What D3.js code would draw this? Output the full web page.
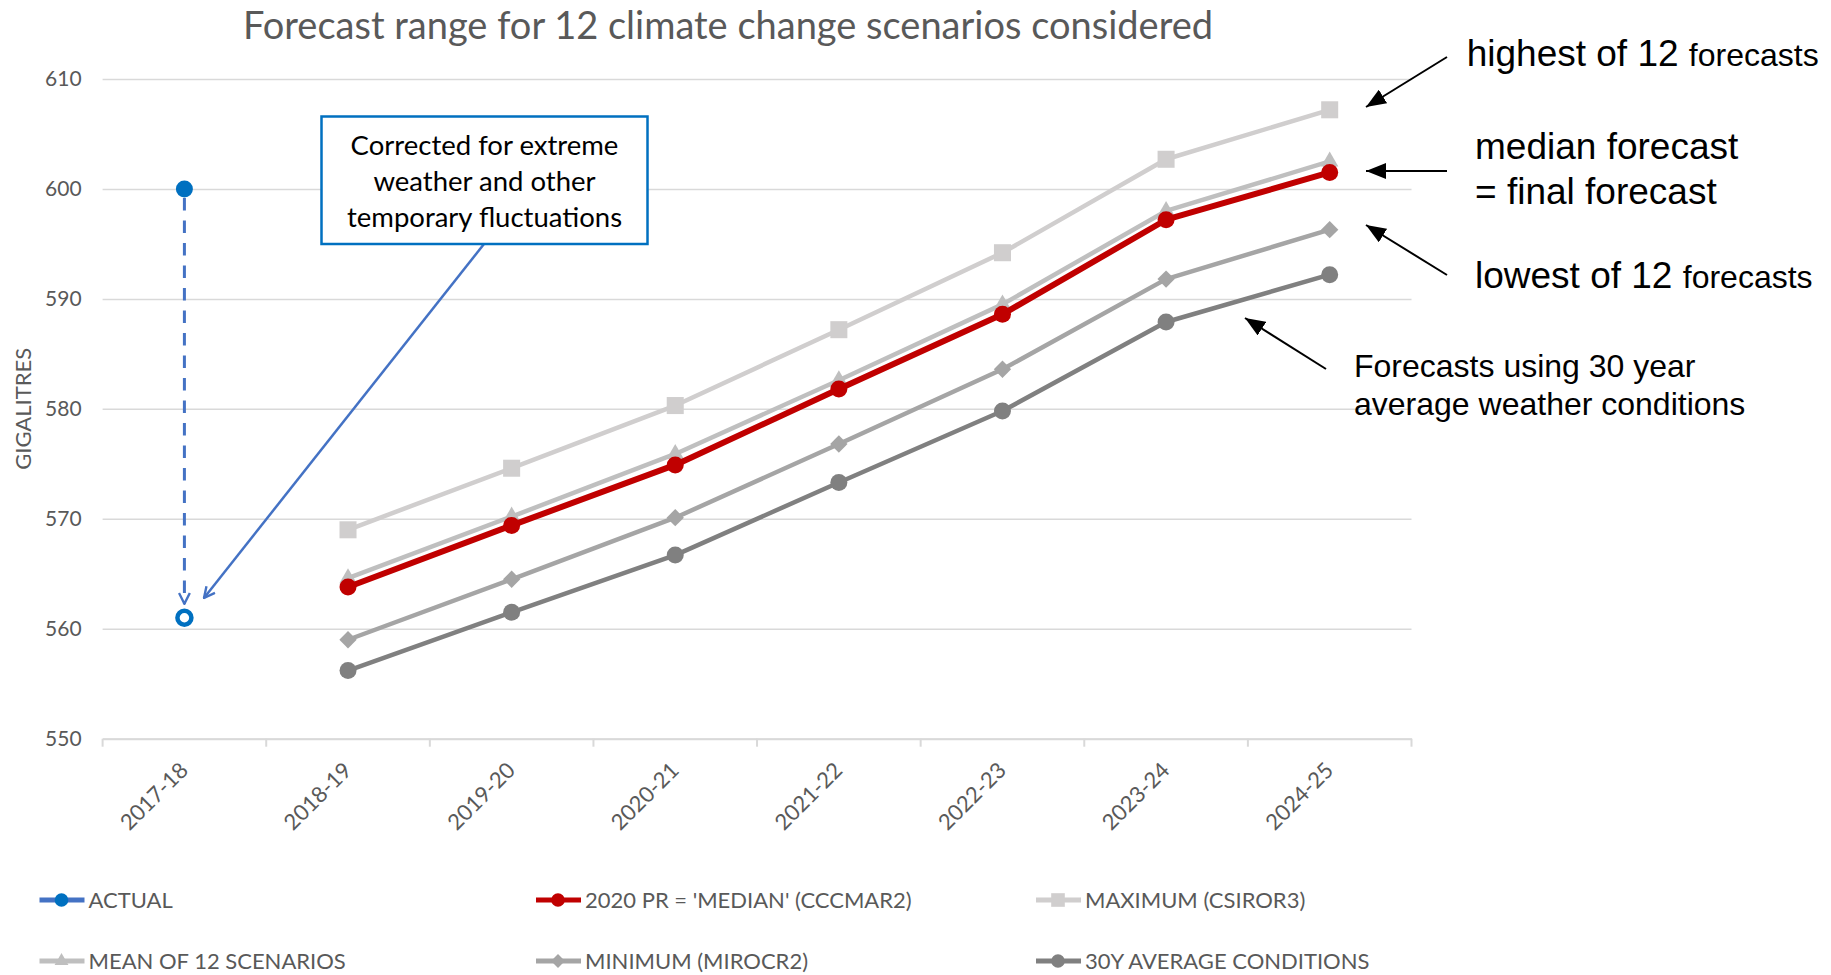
<!DOCTYPE html>
<html>
<head>
<meta charset="utf-8">
<script src="https://cdn.jsdelivr.net/npm/d3@7"></script>
<style>
  html, body { margin: 0; padding: 0; background: #ffffff; }
  svg { display: block; }
</style>
</head>
<body>
<svg id="chart" width="1831" height="975"></svg>
<script>
// ---- data ----
const categories = ['2017-18', '2018-19', '2019-20', '2020-21', '2021-22', '2022-23', '2023-24', '2024-25'];
const yTicks = [550, 560, 570, 580, 590, 600, 610];

const actualValue = 600;     // 2017-18 recorded demand
const correctedValue = 561;  // 2017-18 after correction

const medianSeries  = [null, 563.8, 569.4, 574.9, 581.8, 588.6, 597.2, 601.5];
const maximumSeries = [null, 569.0, 574.6, 580.3, 587.2, 594.2, 602.7, 607.2];
const meanSeries    = [null, 564.6, 570.2, 575.9, 582.6, 589.5, 598.0, 602.5];
const minimumSeries = [null, 559.0, 564.5, 570.1, 576.8, 583.6, 591.8, 596.3];
const avg30Series   = [null, 556.2, 561.5, 566.7, 573.3, 579.8, 587.9, 592.2];

const legendLabels = ['ACTUAL', "2020 PR = 'MEDIAN' (CCCMAR2)", 'MAXIMUM (CSIROR3)',
                      'MEAN OF 12 SCENARIOS', 'MINIMUM (MIROCR2)', '30Y AVERAGE CONDITIONS'];

// ---- setup ----
const svg = d3.select('#chart');
const CAL = "Lato, 'Open Sans', sans-serif";
const ARI = "'Liberation Sans', Arial, sans-serif";
const axisGrey = '#595959';

const x = d3.scaleBand().domain(categories).range([102.6, 1411.5]);
const cx = c => x(c) + x.bandwidth() / 2;
const y = d3.scaleLinear().domain([550, 610]).range([738.7, 79]);

// defs: arrowheads
const defs = svg.append('defs');
defs.append('marker').attr('id', 'openBlue')
  .attr('viewBox', '0 0 12 12').attr('refX', 11).attr('refY', 6)
  .attr('markerWidth', 13).attr('markerHeight', 13).attr('markerUnits', 'userSpaceOnUse')
  .attr('orient', 'auto')
  .append('path').attr('d', 'M1,1 L11,6 L1,11').attr('fill', 'none')
  .attr('stroke', '#4472C4').attr('stroke-width', 2.2);
defs.append('marker').attr('id', 'solidBlack')
  .attr('viewBox', '0 0 20 16').attr('refX', 20).attr('refY', 8)
  .attr('markerWidth', 20).attr('markerHeight', 16).attr('markerUnits', 'userSpaceOnUse')
  .attr('orient', 'auto')
  .append('path').attr('d', 'M0,0 L20,8 L0,16 Z').attr('fill', '#000');

// ---- title ----
svg.append('text')
  .attr('x', 728).attr('y', 39)
  .attr('text-anchor', 'middle')
  .attr('font-family', CAL).attr('font-size', 38)
  .attr('fill', axisGrey)
  .text('Forecast range for 12 climate change scenarios considered');

// ---- gridlines & y axis ----
const yAxis = d3.axisLeft(y).tickValues(yTicks).tickSize(-(1411.5 - 102.6)).tickPadding(21);
const gy = svg.append('g').attr('transform', 'translate(102.6,0)').call(yAxis);
gy.select('.domain').remove();
gy.selectAll('.tick line').attr('stroke', '#D9D9D9').attr('stroke-width', 1.5);
gy.selectAll('.tick text').attr('font-family', CAL).attr('font-size', 21).attr('fill', axisGrey);

// ---- x axis ----
const xAxis = d3.axisBottom(x).tickSize(0).tickFormat(d => d);
const gx = svg.append('g').attr('transform', `translate(0,${y(550)})`).call(xAxis);
gx.select('.domain').attr('stroke', '#D9D9D9').attr('stroke-width', 2);
gx.selectAll('.tick line').remove();
gx.selectAll('.tick text')
  .attr('font-family', CAL).attr('font-size', 22).attr('fill', axisGrey)
  .attr('text-anchor', 'end')
  .attr('transform', 'translate(5,33) rotate(-45)')
  .attr('x', 0).attr('y', 0).attr('dy', 0);
// category boundary ticks
const bounds = categories.map(c => x(c)).concat([x.range()[1]]);
svg.append('g').selectAll('line').data(bounds).join('line')
  .attr('x1', d => d).attr('x2', d => d)
  .attr('y1', y(550)).attr('y2', y(550) + 8)
  .attr('stroke', '#D9D9D9').attr('stroke-width', 2);

// y axis title
svg.append('text')
  .attr('transform', `translate(31,${(y(610) + y(550)) / 2}) rotate(-90)`)
  .attr('text-anchor', 'middle')
  .attr('font-family', CAL).attr('font-size', 22).attr('fill', axisGrey)
  .text('GIGALITRES');

// ---- series ----
const seriesDefs = [
  { name: 'max',  data: maximumSeries, color: '#D0CECE', width: 4.5, symbol: 'square' },
  { name: 'mean', data: meanSeries,    color: '#BFBFBF', width: 4.5, symbol: 'triangle' },
  { name: 'min',  data: minimumSeries, color: '#A5A5A5', width: 4.5, symbol: 'diamond' },
  { name: 'avg',  data: avg30Series,   color: '#808080', width: 4.5, symbol: 'circle' },
  { name: 'med',  data: medianSeries,  color: '#C00000', width: 6,   symbol: 'circle' }
];

function symbolPath(kind, scale) {
  const s = scale || 1;
  if (kind === 'square') return d3.symbol(d3.symbolSquare, 290 * s * s)();
  if (kind === 'triangle') return d3.symbol(d3.symbolTriangle, 130 * s * s)();
  if (kind === 'diamond') return d3.symbol(d3.symbolSquare, 150 * s * s)();
  return d3.symbol(d3.symbolCircle, 227 * s * s)();
}

const line = d3.line()
  .defined(d => d.v != null)
  .x(d => cx(d.c)).y(d => y(d.v));

seriesDefs.forEach(s => {
  const pts = categories.map((c, i) => ({ c, v: s.data[i] }));
  const g = svg.append('g').attr('class', 'series-' + s.name);
  g.append('path').datum(pts)
    .attr('d', line).attr('fill', 'none')
    .attr('stroke', s.color).attr('stroke-width', s.width)
    .attr('stroke-linejoin', 'round');
  g.selectAll('path.mk').data(pts.filter(d => d.v != null)).join('path')
    .attr('class', 'mk')
    .attr('d', symbolPath(s.symbol))
    .attr('transform', d => `translate(${cx(d.c)},${y(d.v)})` + (s.symbol === 'diamond' ? ' rotate(45)' : ''))
    .attr('fill', s.color);
});

// ---- actual value and correction ----
const xa = cx(categories[0]);
svg.append('line')
  .attr('x1', xa).attr('x2', xa)
  .attr('y1', y(actualValue) + 9).attr('y2', y(correctedValue) - 14)
  .attr('stroke', '#4472C4').attr('stroke-width', 3)
  .attr('stroke-dasharray', '12.5,10')
  .attr('marker-end', 'url(#openBlue)');
svg.append('circle')
  .attr('cx', xa).attr('cy', y(actualValue)).attr('r', 8.5)
  .attr('fill', '#0070C0');
svg.append('circle')
  .attr('cx', xa).attr('cy', y(correctedValue)).attr('r', 7)
  .attr('fill', '#fff').attr('stroke', '#0070C0').attr('stroke-width', 4.5);

// ---- callout box ----
svg.append('line')
  .attr('x1', 484).attr('y1', 244)
  .attr('x2', 204).attr('y2', 598)
  .attr('stroke', '#4472C4').attr('stroke-width', 2.5)
  .attr('marker-end', 'url(#openBlue)');
svg.append('rect')
  .attr('x', 321.5).attr('y', 116.5).attr('width', 326).attr('height', 127.5)
  .attr('fill', '#fff').attr('stroke', '#0070C0').attr('stroke-width', 2.5);
const boxLines = ['Corrected for extreme', 'weather and other', 'temporary fluctuations'];
svg.append('g').selectAll('text').data(boxLines).join('text')
  .attr('x', 484.5).attr('y', (d, i) => 155 + i * 36)
  .attr('text-anchor', 'middle')
  .attr('font-family', CAL).attr('font-size', 27.5).attr('fill', '#000')
  .text(d => d);

// ---- right-hand notes ----
function note(xp, yp, big, small) {
  const t = svg.append('text').attr('x', xp).attr('y', yp)
    .attr('font-family', ARI).attr('fill', '#000');
  t.append('tspan').attr('font-size', 37).text(big);
  if (small) t.append('tspan').attr('font-size', 32).text(small);
}
note(1466.7, 66, 'highest of 12 ', 'forecasts');
note(1475, 159, 'median forecast');
note(1475, 204, '= final forecast');
note(1475, 288, 'lowest of 12 ', 'forecasts');
svg.append('text').attr('x', 1354).attr('y', 377)
  .attr('font-family', ARI).attr('font-size', 32).attr('fill', '#000')
  .text('Forecasts using 30 year');
svg.append('text').attr('x', 1354).attr('y', 415)
  .attr('font-family', ARI).attr('font-size', 32).attr('fill', '#000')
  .text('average weather conditions');

const arrows = [
  [1447, 57, 1366, 107],
  [1447, 171, 1366, 171],
  [1447, 275, 1366, 225],
  [1326, 369, 1245, 318]
];
svg.append('g').selectAll('line').data(arrows).join('line')
  .attr('x1', d => d[0]).attr('y1', d => d[1])
  .attr('x2', d => d[2]).attr('y2', d => d[3])
  .attr('stroke', '#000').attr('stroke-width', 2)
  .attr('marker-end', 'url(#solidBlack)');

// ---- legend ----
const legendItems = [
  { label: legendLabels[0], color: '#4472C4', mcolor: '#0070C0', symbol: 'circle', col: 0, row: 0 },
  { label: legendLabels[1], color: '#C00000', mcolor: '#C00000', symbol: 'circle', col: 1, row: 0 },
  { label: legendLabels[2], color: '#D0CECE', mcolor: '#D0CECE', symbol: 'square', col: 2, row: 0 },
  { label: legendLabels[3], color: '#BFBFBF', mcolor: '#BFBFBF', symbol: 'triangle', col: 0, row: 1 },
  { label: legendLabels[4], color: '#A5A5A5', mcolor: '#A5A5A5', symbol: 'diamond', col: 1, row: 1 },
  { label: legendLabels[5], color: '#808080', mcolor: '#808080', symbol: 'circle', col: 2, row: 1 }
];
const colX = [39.5, 536, 1036];
const rowY = [900, 961];
const lg = svg.append('g').selectAll('g').data(legendItems).join('g')
  .attr('transform', d => `translate(${colX[d.col]},${rowY[d.row]})`);
lg.append('line').attr('x1', 0).attr('x2', 45).attr('y1', 0).attr('y2', 0)
  .attr('stroke', d => d.color).attr('stroke-width', 5);
lg.append('path')
  .attr('d', d => symbolPath(d.symbol, 0.8))
  .attr('transform', d => 'translate(22,0)' + (d.symbol === 'diamond' ? ' rotate(45)' : ''))
  .attr('fill', d => d.mcolor);
lg.append('text').attr('x', 49).attr('y', 7.5)
  .attr('font-family', CAL).attr('font-size', 22).attr('fill', axisGrey)
  .text(d => d.label);
</script>
</body>
</html>
